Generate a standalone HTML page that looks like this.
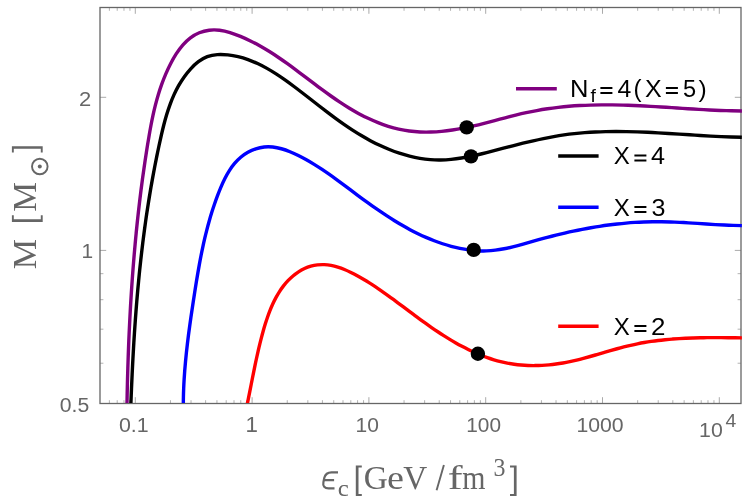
<!DOCTYPE html>
<html><head><meta charset="utf-8"><title>M vs eps_c</title>
<style>html,body{margin:0;padding:0;background:#fff;}body{width:750px;height:504px;overflow:hidden;font-family:"Liberation Sans",sans-serif;}</style></head>
<body>
<svg width="750" height="504" viewBox="0 0 750 504" style="display:block;will-change:transform">
<rect width="750" height="504" fill="#fff"/>
<defs><clipPath id="c"><rect x="100.0" y="7.5" width="641.9" height="395.4"/></clipPath></defs>
<line x1="109.39" y1="403.50" x2="109.39" y2="400.20" stroke="#9a9a9a" stroke-width="0.75"/>
<line x1="109.39" y1="7.50" x2="109.39" y2="10.80" stroke="#9a9a9a" stroke-width="0.75"/>
<line x1="117.21" y1="403.50" x2="117.21" y2="400.20" stroke="#9a9a9a" stroke-width="0.75"/>
<line x1="117.21" y1="7.50" x2="117.21" y2="10.80" stroke="#9a9a9a" stroke-width="0.75"/>
<line x1="123.98" y1="403.50" x2="123.98" y2="400.20" stroke="#9a9a9a" stroke-width="0.75"/>
<line x1="123.98" y1="7.50" x2="123.98" y2="10.80" stroke="#9a9a9a" stroke-width="0.75"/>
<line x1="129.96" y1="403.50" x2="129.96" y2="400.20" stroke="#9a9a9a" stroke-width="0.75"/>
<line x1="129.96" y1="7.50" x2="129.96" y2="10.80" stroke="#9a9a9a" stroke-width="0.75"/>
<line x1="135.30" y1="403.50" x2="135.30" y2="397.20" stroke="#8e8e8e" stroke-width="0.75"/>
<line x1="135.30" y1="7.50" x2="135.30" y2="13.80" stroke="#8e8e8e" stroke-width="0.75"/>
<line x1="170.46" y1="403.50" x2="170.46" y2="400.20" stroke="#9a9a9a" stroke-width="0.75"/>
<line x1="170.46" y1="7.50" x2="170.46" y2="10.80" stroke="#9a9a9a" stroke-width="0.75"/>
<line x1="191.03" y1="403.50" x2="191.03" y2="400.20" stroke="#9a9a9a" stroke-width="0.75"/>
<line x1="191.03" y1="7.50" x2="191.03" y2="10.80" stroke="#9a9a9a" stroke-width="0.75"/>
<line x1="205.62" y1="403.50" x2="205.62" y2="400.20" stroke="#9a9a9a" stroke-width="0.75"/>
<line x1="205.62" y1="7.50" x2="205.62" y2="10.80" stroke="#9a9a9a" stroke-width="0.75"/>
<line x1="216.94" y1="403.50" x2="216.94" y2="400.20" stroke="#9a9a9a" stroke-width="0.75"/>
<line x1="216.94" y1="7.50" x2="216.94" y2="10.80" stroke="#9a9a9a" stroke-width="0.75"/>
<line x1="226.19" y1="403.50" x2="226.19" y2="400.20" stroke="#9a9a9a" stroke-width="0.75"/>
<line x1="226.19" y1="7.50" x2="226.19" y2="10.80" stroke="#9a9a9a" stroke-width="0.75"/>
<line x1="234.01" y1="403.50" x2="234.01" y2="400.20" stroke="#9a9a9a" stroke-width="0.75"/>
<line x1="234.01" y1="7.50" x2="234.01" y2="10.80" stroke="#9a9a9a" stroke-width="0.75"/>
<line x1="240.78" y1="403.50" x2="240.78" y2="400.20" stroke="#9a9a9a" stroke-width="0.75"/>
<line x1="240.78" y1="7.50" x2="240.78" y2="10.80" stroke="#9a9a9a" stroke-width="0.75"/>
<line x1="246.76" y1="403.50" x2="246.76" y2="400.20" stroke="#9a9a9a" stroke-width="0.75"/>
<line x1="246.76" y1="7.50" x2="246.76" y2="10.80" stroke="#9a9a9a" stroke-width="0.75"/>
<line x1="252.10" y1="403.50" x2="252.10" y2="397.20" stroke="#8e8e8e" stroke-width="0.75"/>
<line x1="252.10" y1="7.50" x2="252.10" y2="13.80" stroke="#8e8e8e" stroke-width="0.75"/>
<line x1="287.26" y1="403.50" x2="287.26" y2="400.20" stroke="#9a9a9a" stroke-width="0.75"/>
<line x1="287.26" y1="7.50" x2="287.26" y2="10.80" stroke="#9a9a9a" stroke-width="0.75"/>
<line x1="307.83" y1="403.50" x2="307.83" y2="400.20" stroke="#9a9a9a" stroke-width="0.75"/>
<line x1="307.83" y1="7.50" x2="307.83" y2="10.80" stroke="#9a9a9a" stroke-width="0.75"/>
<line x1="322.42" y1="403.50" x2="322.42" y2="400.20" stroke="#9a9a9a" stroke-width="0.75"/>
<line x1="322.42" y1="7.50" x2="322.42" y2="10.80" stroke="#9a9a9a" stroke-width="0.75"/>
<line x1="333.74" y1="403.50" x2="333.74" y2="400.20" stroke="#9a9a9a" stroke-width="0.75"/>
<line x1="333.74" y1="7.50" x2="333.74" y2="10.80" stroke="#9a9a9a" stroke-width="0.75"/>
<line x1="342.99" y1="403.50" x2="342.99" y2="400.20" stroke="#9a9a9a" stroke-width="0.75"/>
<line x1="342.99" y1="7.50" x2="342.99" y2="10.80" stroke="#9a9a9a" stroke-width="0.75"/>
<line x1="350.81" y1="403.50" x2="350.81" y2="400.20" stroke="#9a9a9a" stroke-width="0.75"/>
<line x1="350.81" y1="7.50" x2="350.81" y2="10.80" stroke="#9a9a9a" stroke-width="0.75"/>
<line x1="357.58" y1="403.50" x2="357.58" y2="400.20" stroke="#9a9a9a" stroke-width="0.75"/>
<line x1="357.58" y1="7.50" x2="357.58" y2="10.80" stroke="#9a9a9a" stroke-width="0.75"/>
<line x1="363.56" y1="403.50" x2="363.56" y2="400.20" stroke="#9a9a9a" stroke-width="0.75"/>
<line x1="363.56" y1="7.50" x2="363.56" y2="10.80" stroke="#9a9a9a" stroke-width="0.75"/>
<line x1="368.90" y1="403.50" x2="368.90" y2="397.20" stroke="#8e8e8e" stroke-width="0.75"/>
<line x1="368.90" y1="7.50" x2="368.90" y2="13.80" stroke="#8e8e8e" stroke-width="0.75"/>
<line x1="404.06" y1="403.50" x2="404.06" y2="400.20" stroke="#9a9a9a" stroke-width="0.75"/>
<line x1="404.06" y1="7.50" x2="404.06" y2="10.80" stroke="#9a9a9a" stroke-width="0.75"/>
<line x1="424.63" y1="403.50" x2="424.63" y2="400.20" stroke="#9a9a9a" stroke-width="0.75"/>
<line x1="424.63" y1="7.50" x2="424.63" y2="10.80" stroke="#9a9a9a" stroke-width="0.75"/>
<line x1="439.22" y1="403.50" x2="439.22" y2="400.20" stroke="#9a9a9a" stroke-width="0.75"/>
<line x1="439.22" y1="7.50" x2="439.22" y2="10.80" stroke="#9a9a9a" stroke-width="0.75"/>
<line x1="450.54" y1="403.50" x2="450.54" y2="400.20" stroke="#9a9a9a" stroke-width="0.75"/>
<line x1="450.54" y1="7.50" x2="450.54" y2="10.80" stroke="#9a9a9a" stroke-width="0.75"/>
<line x1="459.79" y1="403.50" x2="459.79" y2="400.20" stroke="#9a9a9a" stroke-width="0.75"/>
<line x1="459.79" y1="7.50" x2="459.79" y2="10.80" stroke="#9a9a9a" stroke-width="0.75"/>
<line x1="467.61" y1="403.50" x2="467.61" y2="400.20" stroke="#9a9a9a" stroke-width="0.75"/>
<line x1="467.61" y1="7.50" x2="467.61" y2="10.80" stroke="#9a9a9a" stroke-width="0.75"/>
<line x1="474.38" y1="403.50" x2="474.38" y2="400.20" stroke="#9a9a9a" stroke-width="0.75"/>
<line x1="474.38" y1="7.50" x2="474.38" y2="10.80" stroke="#9a9a9a" stroke-width="0.75"/>
<line x1="480.36" y1="403.50" x2="480.36" y2="400.20" stroke="#9a9a9a" stroke-width="0.75"/>
<line x1="480.36" y1="7.50" x2="480.36" y2="10.80" stroke="#9a9a9a" stroke-width="0.75"/>
<line x1="485.70" y1="403.50" x2="485.70" y2="397.20" stroke="#8e8e8e" stroke-width="0.75"/>
<line x1="485.70" y1="7.50" x2="485.70" y2="13.80" stroke="#8e8e8e" stroke-width="0.75"/>
<line x1="520.86" y1="403.50" x2="520.86" y2="400.20" stroke="#9a9a9a" stroke-width="0.75"/>
<line x1="520.86" y1="7.50" x2="520.86" y2="10.80" stroke="#9a9a9a" stroke-width="0.75"/>
<line x1="541.43" y1="403.50" x2="541.43" y2="400.20" stroke="#9a9a9a" stroke-width="0.75"/>
<line x1="541.43" y1="7.50" x2="541.43" y2="10.80" stroke="#9a9a9a" stroke-width="0.75"/>
<line x1="556.02" y1="403.50" x2="556.02" y2="400.20" stroke="#9a9a9a" stroke-width="0.75"/>
<line x1="556.02" y1="7.50" x2="556.02" y2="10.80" stroke="#9a9a9a" stroke-width="0.75"/>
<line x1="567.34" y1="403.50" x2="567.34" y2="400.20" stroke="#9a9a9a" stroke-width="0.75"/>
<line x1="567.34" y1="7.50" x2="567.34" y2="10.80" stroke="#9a9a9a" stroke-width="0.75"/>
<line x1="576.59" y1="403.50" x2="576.59" y2="400.20" stroke="#9a9a9a" stroke-width="0.75"/>
<line x1="576.59" y1="7.50" x2="576.59" y2="10.80" stroke="#9a9a9a" stroke-width="0.75"/>
<line x1="584.41" y1="403.50" x2="584.41" y2="400.20" stroke="#9a9a9a" stroke-width="0.75"/>
<line x1="584.41" y1="7.50" x2="584.41" y2="10.80" stroke="#9a9a9a" stroke-width="0.75"/>
<line x1="591.18" y1="403.50" x2="591.18" y2="400.20" stroke="#9a9a9a" stroke-width="0.75"/>
<line x1="591.18" y1="7.50" x2="591.18" y2="10.80" stroke="#9a9a9a" stroke-width="0.75"/>
<line x1="597.16" y1="403.50" x2="597.16" y2="400.20" stroke="#9a9a9a" stroke-width="0.75"/>
<line x1="597.16" y1="7.50" x2="597.16" y2="10.80" stroke="#9a9a9a" stroke-width="0.75"/>
<line x1="602.50" y1="403.50" x2="602.50" y2="397.20" stroke="#8e8e8e" stroke-width="0.75"/>
<line x1="602.50" y1="7.50" x2="602.50" y2="13.80" stroke="#8e8e8e" stroke-width="0.75"/>
<line x1="637.66" y1="403.50" x2="637.66" y2="400.20" stroke="#9a9a9a" stroke-width="0.75"/>
<line x1="637.66" y1="7.50" x2="637.66" y2="10.80" stroke="#9a9a9a" stroke-width="0.75"/>
<line x1="658.23" y1="403.50" x2="658.23" y2="400.20" stroke="#9a9a9a" stroke-width="0.75"/>
<line x1="658.23" y1="7.50" x2="658.23" y2="10.80" stroke="#9a9a9a" stroke-width="0.75"/>
<line x1="672.82" y1="403.50" x2="672.82" y2="400.20" stroke="#9a9a9a" stroke-width="0.75"/>
<line x1="672.82" y1="7.50" x2="672.82" y2="10.80" stroke="#9a9a9a" stroke-width="0.75"/>
<line x1="684.14" y1="403.50" x2="684.14" y2="400.20" stroke="#9a9a9a" stroke-width="0.75"/>
<line x1="684.14" y1="7.50" x2="684.14" y2="10.80" stroke="#9a9a9a" stroke-width="0.75"/>
<line x1="693.39" y1="403.50" x2="693.39" y2="400.20" stroke="#9a9a9a" stroke-width="0.75"/>
<line x1="693.39" y1="7.50" x2="693.39" y2="10.80" stroke="#9a9a9a" stroke-width="0.75"/>
<line x1="701.21" y1="403.50" x2="701.21" y2="400.20" stroke="#9a9a9a" stroke-width="0.75"/>
<line x1="701.21" y1="7.50" x2="701.21" y2="10.80" stroke="#9a9a9a" stroke-width="0.75"/>
<line x1="707.98" y1="403.50" x2="707.98" y2="400.20" stroke="#9a9a9a" stroke-width="0.75"/>
<line x1="707.98" y1="7.50" x2="707.98" y2="10.80" stroke="#9a9a9a" stroke-width="0.75"/>
<line x1="713.96" y1="403.50" x2="713.96" y2="400.20" stroke="#9a9a9a" stroke-width="0.75"/>
<line x1="713.96" y1="7.50" x2="713.96" y2="10.80" stroke="#9a9a9a" stroke-width="0.75"/>
<line x1="719.30" y1="403.50" x2="719.30" y2="397.20" stroke="#8e8e8e" stroke-width="0.75"/>
<line x1="719.30" y1="7.50" x2="719.30" y2="13.80" stroke="#8e8e8e" stroke-width="0.75"/>
<line x1="100.00" y1="363.23" x2="103.40" y2="363.23" stroke="#9a9a9a" stroke-width="0.75"/>
<line x1="741.00" y1="363.23" x2="737.60" y2="363.23" stroke="#9a9a9a" stroke-width="0.75"/>
<line x1="100.00" y1="329.18" x2="103.40" y2="329.18" stroke="#9a9a9a" stroke-width="0.75"/>
<line x1="741.00" y1="329.18" x2="737.60" y2="329.18" stroke="#9a9a9a" stroke-width="0.75"/>
<line x1="100.00" y1="299.69" x2="103.40" y2="299.69" stroke="#9a9a9a" stroke-width="0.75"/>
<line x1="741.00" y1="299.69" x2="737.60" y2="299.69" stroke="#9a9a9a" stroke-width="0.75"/>
<line x1="100.00" y1="273.67" x2="103.40" y2="273.67" stroke="#9a9a9a" stroke-width="0.75"/>
<line x1="741.00" y1="273.67" x2="737.60" y2="273.67" stroke="#9a9a9a" stroke-width="0.75"/>
<line x1="100.00" y1="250.40" x2="106.20" y2="250.40" stroke="#8e8e8e" stroke-width="0.75"/>
<line x1="741.00" y1="250.40" x2="734.80" y2="250.40" stroke="#8e8e8e" stroke-width="0.75"/>
<line x1="100.00" y1="97.30" x2="106.20" y2="97.30" stroke="#8e8e8e" stroke-width="0.75"/>
<line x1="741.00" y1="97.30" x2="734.80" y2="97.30" stroke="#8e8e8e" stroke-width="0.75"/>
<rect x="100.0" y="7.5" width="641.0" height="396.0" fill="none" stroke="#666" stroke-width="1.3"/>
<g clip-path="url(#c)" fill="none" stroke-width="3.4" stroke-linejoin="round">
<path d="M246.86,406.08C247.36,403.67 247.85,401.28 248.32,398.92C248.80,396.56 249.26,394.22 249.72,391.91C250.18,389.60 250.63,387.31 251.08,385.03C251.53,382.76 251.97,380.50 252.41,378.26C252.86,376.02 253.30,373.78 253.75,371.56C254.20,369.33 254.66,367.11 255.12,364.90C255.58,362.68 256.05,360.47 256.53,358.25C257.01,356.04 257.51,353.82 258.02,351.60C258.53,349.37 259.05,347.14 259.60,344.90C260.14,342.65 260.71,340.40 261.30,338.12C261.89,335.85 262.50,333.56 263.14,331.26C263.78,328.96 264.46,326.65 265.17,324.35C265.88,322.05 266.62,319.75 267.42,317.46C268.21,315.18 269.04,312.91 269.93,310.67C270.82,308.43 271.76,306.22 272.75,304.05C273.75,301.88 274.81,299.74 275.93,297.66C277.05,295.58 278.24,293.55 279.50,291.59C280.76,289.63 282.09,287.72 283.50,285.90C284.92,284.07 286.41,282.32 287.99,280.66C289.57,279.00 291.24,277.42 293.00,275.95C294.76,274.47 296.61,273.10 298.53,271.86C300.45,270.62 302.45,269.51 304.51,268.56C306.57,267.61 308.68,266.82 310.85,266.21C313.01,265.60 315.22,265.17 317.46,264.92C319.70,264.67 321.96,264.58 324.23,264.67C326.50,264.75 328.78,265.00 331.05,265.41C333.31,265.82 335.57,266.39 337.80,267.09C340.03,267.78 342.25,268.60 344.44,269.51C346.63,270.42 348.80,271.42 350.94,272.47C353.08,273.53 355.19,274.63 357.27,275.76C359.34,276.89 361.39,278.05 363.41,279.24C365.43,280.43 367.42,281.64 369.39,282.88C371.36,284.11 373.30,285.37 375.23,286.65C377.16,287.93 379.07,289.23 380.97,290.55C382.87,291.87 384.75,293.20 386.63,294.55C388.50,295.90 390.37,297.26 392.23,298.63C394.10,300.00 395.96,301.38 397.82,302.77C399.67,304.16 401.53,305.55 403.40,306.95C405.26,308.35 407.13,309.76 409.01,311.16C410.88,312.56 412.77,313.97 414.66,315.37C416.56,316.77 418.46,318.16 420.37,319.55C422.28,320.94 424.20,322.32 426.13,323.70C428.06,325.07 430.00,326.43 431.94,327.77C433.89,329.12 435.85,330.45 437.82,331.76C439.79,333.07 441.77,334.36 443.76,335.63C445.75,336.90 447.75,338.14 449.76,339.37C451.77,340.59 453.80,341.78 455.83,342.94C457.87,344.11 459.92,345.24 461.98,346.34C464.04,347.44 466.11,348.50 468.20,349.53C470.29,350.56 472.39,351.55 474.50,352.50C476.61,353.45 478.74,354.35 480.88,355.21C483.03,356.07 485.18,356.89 487.35,357.65C489.52,358.42 491.71,359.14 493.91,359.80C496.11,360.46 498.33,361.08 500.56,361.63C502.79,362.18 505.04,362.68 507.30,363.12C509.57,363.55 511.85,363.93 514.14,364.24C516.43,364.56 518.74,364.82 521.05,365.02C523.37,365.22 525.69,365.37 528.02,365.46C530.35,365.55 532.68,365.59 535.02,365.57C537.36,365.55 539.70,365.49 542.03,365.37C544.37,365.25 546.71,365.08 549.04,364.86C551.37,364.64 553.70,364.37 556.02,364.05C558.34,363.74 560.65,363.37 562.94,362.97C565.24,362.56 567.53,362.11 569.81,361.63C572.09,361.14 574.37,360.62 576.63,360.07C578.90,359.53 581.16,358.95 583.41,358.35C585.67,357.75 587.92,357.14 590.16,356.51C592.41,355.87 594.65,355.23 596.89,354.58C599.13,353.93 601.37,353.27 603.61,352.62C605.85,351.96 608.09,351.31 610.34,350.66C612.58,350.02 614.82,349.38 617.07,348.76C619.31,348.14 621.56,347.54 623.82,346.96C626.07,346.38 628.33,345.83 630.60,345.30C632.87,344.78 635.14,344.28 637.42,343.82C639.70,343.37 641.99,342.94 644.29,342.54C646.58,342.15 648.88,341.78 651.19,341.44C653.49,341.11 655.80,340.80 658.12,340.52C660.43,340.23 662.75,339.98 665.07,339.74C667.40,339.51 669.72,339.30 672.05,339.11C674.38,338.93 676.71,338.76 679.05,338.61C681.38,338.47 683.72,338.34 686.06,338.23C688.39,338.12 690.73,338.03 693.07,337.96C695.41,337.88 697.75,337.82 700.09,337.77C702.43,337.72 704.76,337.69 707.10,337.66C709.44,337.64 711.77,337.62 714.11,337.62C716.44,337.61 718.77,337.62 721.10,337.63C723.43,337.64 725.76,337.65 728.08,337.68C730.40,337.70 732.72,337.72 735.04,337.75C737.35,337.78 739.66,337.81 741.96,337.84" stroke="#ff0000"/>
<path d="M183.33,405.97C183.32,403.02 183.35,400.07 183.41,397.11C183.47,394.15 183.56,391.19 183.68,388.23C183.80,385.27 183.95,382.30 184.13,379.34C184.31,376.37 184.52,373.40 184.75,370.43C184.98,367.46 185.23,364.49 185.51,361.52C185.78,358.55 186.08,355.58 186.40,352.61C186.72,349.64 187.05,346.67 187.41,343.70C187.76,340.74 188.13,337.77 188.51,334.80C188.90,331.84 189.29,328.88 189.70,325.92C190.11,322.96 190.53,320.00 190.96,317.05C191.39,314.10 191.82,311.15 192.27,308.20C192.71,305.26 193.16,302.32 193.61,299.38C194.06,296.45 194.52,293.52 194.98,290.60C195.44,287.67 195.90,284.75 196.37,281.84C196.85,278.92 197.33,276.02 197.83,273.11C198.33,270.20 198.84,267.30 199.37,264.41C199.90,261.51 200.44,258.62 201.01,255.73C201.58,252.84 202.17,249.95 202.79,247.07C203.40,244.18 204.05,241.30 204.72,238.42C205.39,235.54 206.10,232.67 206.84,229.80C207.58,226.92 208.35,224.05 209.16,221.18C209.97,218.31 210.82,215.44 211.72,212.57C212.61,209.71 213.54,206.84 214.53,203.97C215.51,201.11 216.54,198.24 217.62,195.38C218.70,192.51 219.83,189.64 221.04,186.80C222.24,183.97 223.51,181.16 224.89,178.44C226.27,175.72 227.75,173.07 229.36,170.54C230.96,168.02 232.70,165.62 234.59,163.38C236.48,161.15 238.53,159.07 240.76,157.21C242.99,155.35 245.39,153.69 247.91,152.28C250.43,150.87 253.08,149.70 255.80,148.81C258.53,147.92 261.33,147.30 264.17,147.00C267.02,146.70 269.89,146.73 272.76,147.04C275.64,147.36 278.53,147.95 281.40,148.75C284.27,149.55 287.13,150.56 289.96,151.71C292.78,152.86 295.58,154.15 298.32,155.51C301.06,156.88 303.75,158.30 306.39,159.78C309.03,161.25 311.61,162.78 314.16,164.34C316.71,165.91 319.22,167.52 321.69,169.16C324.17,170.80 326.62,172.48 329.04,174.18C331.47,175.88 333.87,177.61 336.26,179.36C338.65,181.10 341.03,182.86 343.40,184.64C345.78,186.41 348.15,188.19 350.52,189.97C352.90,191.75 355.28,193.53 357.68,195.30C360.07,197.08 362.47,198.85 364.89,200.60C367.31,202.36 369.73,204.10 372.18,205.83C374.62,207.55 377.07,209.26 379.54,210.95C382.01,212.63 384.50,214.29 387.00,215.92C389.51,217.55 392.03,219.15 394.56,220.72C397.10,222.28 399.66,223.81 402.24,225.30C404.81,226.79 407.41,228.23 410.03,229.63C412.65,231.03 415.29,232.38 417.96,233.68C420.62,234.97 423.31,236.22 426.02,237.40C428.74,238.58 431.47,239.71 434.24,240.77C437.00,241.83 439.80,242.82 442.62,243.75C445.44,244.67 448.29,245.52 451.17,246.30C454.04,247.07 456.96,247.77 459.89,248.38C462.82,248.98 465.77,249.50 468.73,249.90C471.69,250.31 474.66,250.60 477.63,250.77C480.60,250.94 483.56,250.99 486.51,250.89C489.46,250.79 492.40,250.54 495.32,250.17C498.24,249.81 501.15,249.32 504.05,248.75C506.95,248.18 509.84,247.52 512.73,246.81C515.61,246.09 518.49,245.32 521.37,244.53C524.25,243.73 527.12,242.91 530.00,242.09C532.88,241.28 535.76,240.47 538.64,239.69C541.53,238.90 544.41,238.13 547.30,237.38C550.19,236.63 553.08,235.90 555.98,235.19C558.87,234.48 561.77,233.79 564.68,233.12C567.58,232.46 570.48,231.81 573.39,231.20C576.30,230.58 579.21,229.98 582.13,229.41C585.04,228.85 587.96,228.30 590.88,227.79C593.80,227.28 596.73,226.79 599.66,226.33C602.59,225.88 605.52,225.45 608.45,225.06C611.39,224.66 614.33,224.30 617.27,223.97C620.21,223.64 623.16,223.34 626.11,223.08C629.06,222.81 632.01,222.59 634.97,222.40C637.93,222.20 640.89,222.05 643.85,221.93C646.82,221.82 649.79,221.74 652.76,221.71C655.73,221.67 658.71,221.67 661.69,221.72C664.67,221.76 667.65,221.84 670.63,221.94C673.62,222.05 676.60,222.18 679.59,222.33C682.58,222.49 685.56,222.66 688.55,222.85C691.54,223.03 694.52,223.23 697.51,223.42C700.49,223.62 703.47,223.82 706.45,224.02C709.43,224.22 712.41,224.41 715.38,224.58C718.35,224.76 721.32,224.92 724.28,225.06C727.24,225.21 730.19,225.33 733.14,225.41C736.09,225.50 739.03,225.56 741.97,225.58" stroke="#0000ff"/>
<path d="M130.79,406.21C130.92,402.67 131.06,399.13 131.20,395.60C131.35,392.06 131.49,388.54 131.65,385.01C131.80,381.49 131.96,377.97 132.13,374.46C132.29,370.94 132.47,367.43 132.65,363.92C132.83,360.42 133.02,356.91 133.21,353.41C133.41,349.91 133.61,346.42 133.82,342.92C134.03,339.43 134.25,335.94 134.48,332.45C134.71,328.97 134.95,325.48 135.20,322.00C135.44,318.52 135.70,315.04 135.97,311.57C136.24,308.09 136.51,304.62 136.80,301.15C137.09,297.67 137.39,294.20 137.70,290.74C138.01,287.27 138.33,283.80 138.67,280.34C139.00,276.88 139.35,273.41 139.70,269.95C140.06,266.49 140.43,263.03 140.82,259.57C141.20,256.12 141.60,252.66 142.01,249.20C142.42,245.75 142.84,242.29 143.28,238.84C143.72,235.38 144.18,231.93 144.64,228.47C145.11,225.02 145.59,221.56 146.09,218.11C146.59,214.66 147.11,211.20 147.64,207.75C148.17,204.29 148.71,200.84 149.28,197.38C149.84,193.93 150.42,190.47 151.01,187.02C151.61,183.56 152.23,180.11 152.86,176.65C153.49,173.19 154.14,169.73 154.81,166.27C155.48,162.81 156.16,159.35 156.87,155.89C157.58,152.42 158.30,148.96 159.05,145.49C159.79,142.03 160.55,138.56 161.35,135.09C162.14,131.63 162.97,128.17 163.85,124.74C164.74,121.31 165.68,117.90 166.70,114.53C167.72,111.16 168.82,107.82 170.02,104.55C171.22,101.27 172.52,98.04 173.94,94.89C175.37,91.74 176.92,88.65 178.61,85.65C180.31,82.65 182.15,79.74 184.16,76.92C186.16,74.11 188.34,71.39 190.71,68.80C193.08,66.22 195.63,63.79 198.39,61.71C201.14,59.63 204.10,57.89 207.27,56.67C210.43,55.45 213.85,54.81 217.34,54.58C220.84,54.36 224.39,54.52 227.86,54.88C231.32,55.24 234.73,55.83 238.09,56.62C241.44,57.41 244.74,58.40 248.00,59.57C251.25,60.73 254.46,62.06 257.62,63.54C260.78,65.02 263.89,66.64 266.97,68.37C270.05,70.10 273.08,71.95 276.08,73.88C279.08,75.81 282.04,77.82 284.98,79.89C287.91,81.96 290.81,84.09 293.68,86.24C296.55,88.39 299.39,90.56 302.21,92.74C305.03,94.91 307.83,97.09 310.62,99.25C313.40,101.42 316.17,103.58 318.94,105.73C321.71,107.87 324.48,110.00 327.25,112.10C330.01,114.20 332.79,116.28 335.58,118.32C338.37,120.37 341.17,122.38 344.00,124.34C346.83,126.31 349.69,128.23 352.57,130.11C355.46,131.98 358.38,133.80 361.34,135.56C364.30,137.32 367.31,139.02 370.36,140.65C373.42,142.28 376.53,143.85 379.70,145.33C382.87,146.81 386.10,148.22 389.38,149.53C392.66,150.84 395.99,152.06 399.36,153.17C402.73,154.27 406.13,155.26 409.56,156.13C412.99,156.99 416.44,157.72 419.90,158.31C423.36,158.90 426.84,159.34 430.31,159.61C433.78,159.89 437.25,160.00 440.71,159.94C444.17,159.89 447.62,159.69 451.07,159.36C454.52,159.03 457.96,158.58 461.40,158.03C464.84,157.47 468.28,156.82 471.71,156.10C475.14,155.38 478.56,154.59 481.98,153.75C485.41,152.92 488.83,152.04 492.24,151.15C495.66,150.25 499.07,149.35 502.48,148.45C505.90,147.55 509.31,146.65 512.72,145.78C516.13,144.90 519.53,144.04 522.95,143.21C526.36,142.37 529.77,141.56 533.18,140.78C536.59,140.00 540.01,139.26 543.43,138.55C546.85,137.85 550.28,137.19 553.71,136.58C557.14,135.97 560.57,135.41 564.01,134.92C567.45,134.42 570.90,133.98 574.36,133.60C577.81,133.22 581.28,132.90 584.74,132.64C588.21,132.37 591.69,132.15 595.17,131.99C598.64,131.82 602.13,131.70 605.62,131.62C609.10,131.54 612.60,131.50 616.09,131.50C619.59,131.50 623.09,131.53 626.59,131.59C630.09,131.66 633.59,131.75 637.10,131.87C640.60,131.99 644.11,132.13 647.62,132.30C651.13,132.46 654.63,132.64 658.14,132.84C661.65,133.03 665.16,133.24 668.67,133.46C672.18,133.68 675.69,133.90 679.19,134.13C682.70,134.36 686.20,134.59 689.70,134.82C693.20,135.04 696.70,135.27 700.20,135.49C703.70,135.70 707.19,135.91 710.68,136.10C714.17,136.30 717.65,136.48 721.13,136.64C724.61,136.80 728.09,136.94 731.55,137.05C735.02,137.17 738.49,137.26 741.94,137.32" stroke="#000000"/>
<path d="M126.94,405.97C127.00,402.37 127.07,398.77 127.15,395.17C127.22,391.57 127.30,387.97 127.39,384.37C127.48,380.77 127.57,377.16 127.68,373.56C127.78,369.95 127.89,366.35 128.01,362.74C128.12,359.14 128.25,355.53 128.38,351.93C128.51,348.32 128.66,344.71 128.80,341.11C128.95,337.50 129.11,333.89 129.28,330.29C129.45,326.68 129.62,323.07 129.81,319.47C129.99,315.86 130.19,312.25 130.39,308.65C130.59,305.04 130.80,301.44 131.03,297.83C131.25,294.23 131.48,290.62 131.73,287.02C131.97,283.42 132.22,279.81 132.49,276.21C132.75,272.61 133.02,269.01 133.31,265.41C133.59,261.81 133.89,258.21 134.20,254.62C134.51,251.02 134.82,247.42 135.16,243.83C135.49,240.24 135.83,236.64 136.18,233.05C136.54,229.46 136.90,225.87 137.28,222.29C137.66,218.70 138.05,215.11 138.46,211.53C138.86,207.95 139.28,204.37 139.71,200.79C140.14,197.21 140.58,193.63 141.03,190.06C141.49,186.48 141.96,182.91 142.44,179.34C142.93,175.77 143.43,172.21 143.94,168.65C144.45,165.08 144.98,161.52 145.52,157.96C146.06,154.41 146.61,150.85 147.18,147.30C147.75,143.75 148.34,140.20 148.94,136.66C149.55,133.11 150.17,129.57 150.84,126.04C151.51,122.51 152.21,118.98 152.98,115.46C153.74,111.95 154.56,108.44 155.45,104.94C156.34,101.44 157.30,97.96 158.35,94.49C159.40,91.01 160.53,87.55 161.77,84.11C163.01,80.67 164.36,77.24 165.82,73.83C167.28,70.42 168.87,67.02 170.59,63.66C172.31,60.30 174.17,57.00 176.19,53.87C178.21,50.73 180.39,47.75 182.75,45.04C185.12,42.32 187.66,39.87 190.42,37.79C193.17,35.71 196.14,34.01 199.29,32.73C202.44,31.46 205.77,30.61 209.17,30.19C212.58,29.77 216.06,29.81 219.56,30.24C223.06,30.67 226.57,31.48 230.07,32.54C233.56,33.60 237.03,34.91 240.44,36.33C243.84,37.75 247.18,39.28 250.45,40.90C253.73,42.52 256.94,44.22 260.10,46.01C263.26,47.79 266.37,49.64 269.44,51.56C272.50,53.48 275.53,55.46 278.52,57.49C281.51,59.51 284.47,61.59 287.41,63.69C290.34,65.80 293.25,67.94 296.15,70.10C299.05,72.26 301.94,74.43 304.82,76.62C307.71,78.80 310.59,80.98 313.47,83.16C316.36,85.34 319.25,87.51 322.16,89.66C325.06,91.80 327.99,93.92 330.93,96.01C333.88,98.09 336.86,100.14 339.87,102.14C342.87,104.14 345.92,106.08 349.01,107.96C352.10,109.84 355.23,111.66 358.41,113.39C361.60,115.12 364.83,116.78 368.10,118.33C371.38,119.88 374.70,121.34 378.05,122.67C381.41,124.01 384.81,125.23 388.24,126.31C391.67,127.39 395.14,128.34 398.64,129.13C402.14,129.92 405.67,130.56 409.23,131.03C412.79,131.50 416.38,131.81 419.98,131.97C423.58,132.13 427.19,132.14 430.80,132.03C434.41,131.92 438.03,131.68 441.62,131.33C445.22,130.99 448.80,130.53 452.37,129.99C455.93,129.45 459.48,128.83 463.02,128.13C466.56,127.44 470.08,126.68 473.60,125.87C477.12,125.06 480.63,124.20 484.13,123.32C487.64,122.43 491.14,121.52 494.64,120.61C498.14,119.69 501.64,118.77 505.14,117.85C508.64,116.94 512.15,116.05 515.65,115.18C519.16,114.32 522.68,113.48 526.20,112.71C529.73,111.93 533.26,111.21 536.81,110.55C540.36,109.90 543.92,109.31 547.48,108.78C551.05,108.25 554.63,107.79 558.21,107.38C561.79,106.97 565.38,106.61 568.98,106.31C572.57,106.01 576.17,105.76 579.78,105.56C583.38,105.36 586.99,105.20 590.60,105.09C594.20,104.98 597.81,104.91 601.42,104.88C605.03,104.86 608.64,104.86 612.24,104.91C615.85,104.95 619.45,105.02 623.06,105.13C626.67,105.23 630.27,105.36 633.88,105.51C637.48,105.66 641.09,105.84 644.69,106.03C648.29,106.22 651.90,106.42 655.50,106.64C659.10,106.85 662.71,107.08 666.31,107.31C669.91,107.54 673.52,107.78 677.12,108.02C680.72,108.25 684.33,108.49 687.93,108.72C691.53,108.94 695.14,109.17 698.74,109.38C702.34,109.59 705.95,109.78 709.55,109.97C713.16,110.15 716.76,110.31 720.36,110.45C723.97,110.59 727.57,110.71 731.18,110.79C734.79,110.88 738.39,110.94 742.00,110.96" stroke="#800080"/>
</g>
<circle cx="466.7" cy="127.4" r="7.2" fill="#000"/>
<circle cx="471.0" cy="156.4" r="7.2" fill="#000"/>
<circle cx="473.7" cy="249.9" r="7.2" fill="#000"/>
<circle cx="477.9" cy="353.75" r="7.2" fill="#000"/>
<line x1="516.0" y1="88.8" x2="556.8" y2="88.8" stroke="#800080" stroke-width="3.4"/>
<line x1="558.2" y1="156.0" x2="598.6" y2="156.0" stroke="#000" stroke-width="3.4"/>
<line x1="558.2" y1="207.3" x2="598.6" y2="207.3" stroke="#0000ff" stroke-width="3.4"/>
<line x1="558.2" y1="326.3" x2="598.6" y2="326.3" stroke="#ff0000" stroke-width="3.4"/>
<text transform="translate(569.96,96.80) scale(1.0744,1)" font-family="Liberation Sans" font-style="normal" font-size="23.77" fill="#000">N</text>
<text transform="translate(590.61,102.10) scale(1.0651,1)" font-family="Liberation Sans" font-style="normal" font-size="18.07" fill="#000">f</text>
<path fill="#000" d="M600.40,86.90H612.40v2.1H600.40ZM600.40,92.00H612.40v2.1H600.40Z"/>
<text transform="translate(617.38,96.80) scale(1.0434,1)" font-family="Liberation Sans" font-style="normal" font-size="23.77" fill="#000">4</text>
<text transform="translate(633.45,96.80) scale(1.0161,1)" font-family="Liberation Sans" font-style="normal" font-size="23.77" fill="#000">(</text>
<text transform="translate(644.88,96.80) scale(1.0518,1)" font-family="Liberation Sans" font-style="normal" font-size="23.77" fill="#000">X</text>
<path fill="#000" d="M665.90,86.90H677.90v2.1H665.90ZM665.90,92.00H677.90v2.1H665.90Z"/>
<text transform="translate(682.96,96.80) scale(0.9920,1)" font-family="Liberation Sans" font-style="normal" font-size="23.77" fill="#000">5</text>
<text transform="translate(698.55,96.80) scale(1.0356,1)" font-family="Liberation Sans" font-style="normal" font-size="23.77" fill="#000">)</text>
<text transform="translate(613.80,164.30) scale(1.0111,1)" font-family="Liberation Sans" font-style="normal" font-size="23.77" fill="#000">X</text>
<path fill="#000" d="M634.40,154.40H646.40v2.1H634.40ZM634.40,159.50H646.40v2.1H634.40Z"/>
<text transform="translate(650.97,164.30) scale(1.0602,1)" font-family="Liberation Sans" font-style="normal" font-size="23.77" fill="#000">4</text>
<text transform="translate(613.80,215.80) scale(1.0111,1)" font-family="Liberation Sans" font-style="normal" font-size="23.77" fill="#000">X</text>
<path fill="#000" d="M634.40,205.90H646.40v2.1H634.40ZM634.40,211.00H646.40v2.1H634.40Z"/>
<text transform="translate(651.40,215.80) scale(1.0563,1)" font-family="Liberation Sans" font-style="normal" font-size="23.77" fill="#000">3</text>
<text transform="translate(613.80,334.80) scale(1.0111,1)" font-family="Liberation Sans" font-style="normal" font-size="23.77" fill="#000">X</text>
<path fill="#000" d="M634.40,324.90H646.40v2.1H634.40ZM634.40,330.00H646.40v2.1H634.40Z"/>
<text transform="translate(651.10,334.80) scale(1.0911,1)" font-family="Liberation Sans" font-style="normal" font-size="23.77" fill="#000">2</text>
<text transform="translate(79.10,105.80) scale(1.0395,1)" font-family="Liberation Sans" font-style="normal" font-size="21.14" fill="#666">2</text>
<text transform="translate(81.43,258.40) scale(1.0029,1)" font-family="Liberation Sans" font-style="normal" font-size="20.87" fill="#666">1</text>
<text transform="translate(59.75,411.89) scale(1.0045,1)" font-family="Liberation Sans" font-style="normal" font-size="21.13" fill="#666">0.5</text>
<text transform="translate(118.94,431.69) scale(1.0329,1)" font-family="Liberation Sans" font-style="normal" font-size="20.70" fill="#666">0.1</text>
<text transform="translate(245.53,431.80) scale(1.0551,1)" font-family="Liberation Sans" font-style="normal" font-size="21.16" fill="#666">1</text>
<text transform="translate(355.62,431.69) scale(1.0143,1)" font-family="Liberation Sans" font-style="normal" font-size="20.70" fill="#666">10</text>
<text transform="translate(466.24,431.69) scale(1.0064,1)" font-family="Liberation Sans" font-style="normal" font-size="20.70" fill="#666">100</text>
<text transform="translate(576.41,431.69) scale(1.0255,1)" font-family="Liberation Sans" font-style="normal" font-size="20.70" fill="#666">1000</text>
<text transform="translate(699.10,437.10) scale(1.0430,1)" font-family="Liberation Sans" font-style="normal" font-size="20.42" fill="#666">10</text>
<text transform="translate(725.41,427.30) scale(1.0377,1)" font-family="Liberation Sans" font-style="normal" font-size="18.70" fill="#666">4</text>
<path fill="none" stroke="#666" stroke-width="2.2" d="M338.0,472.3L331.5,472.3C327.3,472.3 325.2,474.4 324.3,477.8L323.4,482.2C322.6,486.2 324.6,488.4 328.6,488.4L334.5,488.4M323.9,480.2L334.1,480.2"/>
<text transform="translate(337.81,495.77) scale(1.0822,1)" font-family="Liberation Serif" font-style="normal" font-size="22.92" fill="#666">c</text>
<path fill="#666" d="M355.80,465.60H361.80V467.50H358.50V494.10H361.80V496.00H355.80Z"/>
<text transform="translate(363.87,489.16) scale(0.9852,1)" font-family="Liberation Serif" font-style="normal" font-size="33.73" fill="#666">G</text>
<text transform="translate(386.88,489.16) scale(1.1361,1)" font-family="Liberation Serif" font-style="normal" font-size="33.54" fill="#666">e</text>
<text transform="translate(403.27,489.10) scale(0.9883,1)" font-family="Liberation Serif" font-style="normal" font-size="33.53" fill="#666">V</text>
<line x1="436.6" y1="490.3" x2="443.9" y2="465.0" stroke="#666" stroke-width="1.9"/>
<text transform="translate(447.86,489.10) scale(1.2951,1)" font-family="Liberation Serif" font-style="normal" font-size="34.43" fill="#666">f</text>
<text transform="translate(462.20,489.10) scale(0.8940,1)" font-family="Liberation Serif" font-style="normal" font-size="33.40" fill="#666">m</text>
<text transform="translate(493.60,475.76) scale(0.9825,1)" font-family="Liberation Serif" font-style="normal" font-size="24.33" fill="#666">3</text>
<path fill="#666" d="M516.60,465.60H510.00V467.50H513.90V494.10H510.00V496.00H516.60Z"/>
<g transform="translate(36.2,268.2) rotate(-90)">
<text transform="translate(-1.02,0.00) scale(1.0028,1)" font-family="Liberation Serif" font-style="normal" font-size="34.00" fill="#666">M</text>
<path fill="#666" d="M46.30,-24.30H52.90V-22.40H48.90V4.60H52.90V6.50H46.30Z"/>
<text transform="translate(56.50,0.00) scale(0.9851,1)" font-family="Liberation Serif" font-style="normal" font-size="34.00" fill="#666">M</text>
<path fill="#666" d="M122.00,-24.30H115.60V-22.40H119.40V4.60H115.60V6.50H122.00Z"/>
</g>
<circle cx="39.8" cy="166.5" r="7.8" fill="none" stroke="#666" stroke-width="1.9"/>
<circle cx="39.8" cy="166.5" r="2.0" fill="#666"/>
</svg>
</body></html>
